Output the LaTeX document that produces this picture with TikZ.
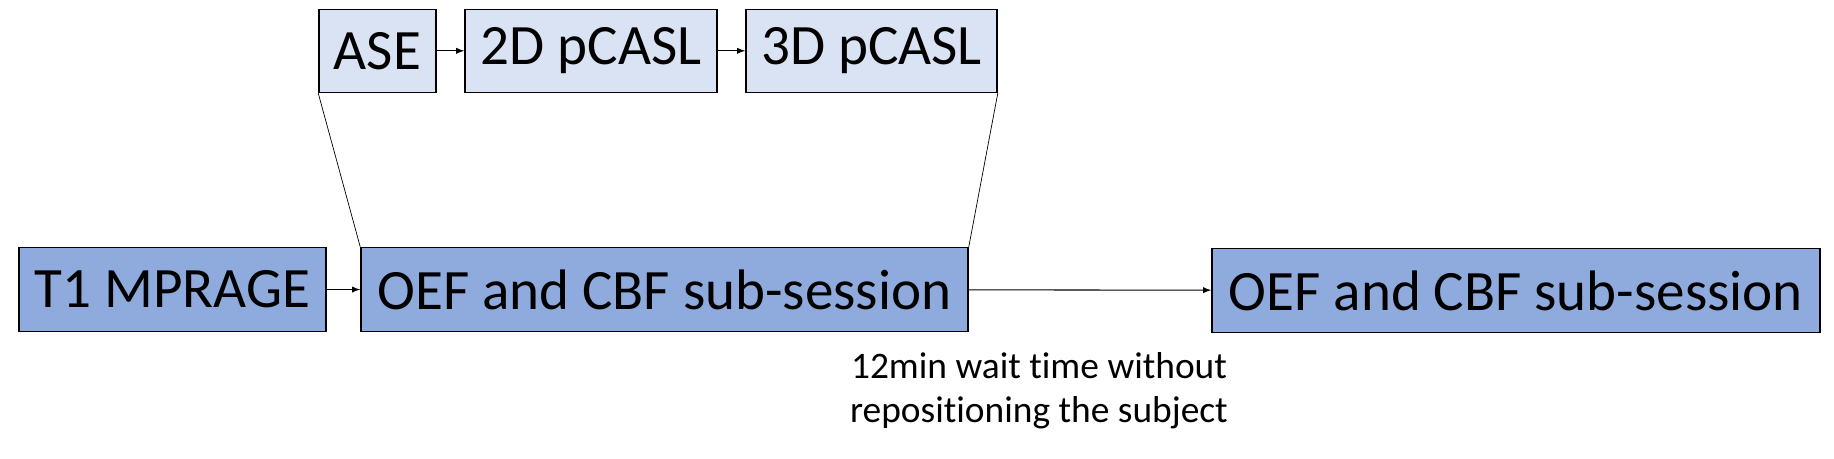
\documentclass[tikz,border=0pt]{standalone}
\usepackage{fontspec}
\setmainfont{Carlito}[Ligatures={NoCommon}]
\usetikzlibrary{arrows}
\definecolor{StepClr}{HTML}{DAE3F3}
\definecolor{SessionClr}{HTML}{8FAADC}

\begin{document}
\begin{tikzpicture}[x=0.02cm,y=-0.02cm,
  stepbox/.style={draw=black,line width=0.9pt,fill=StepClr,minimum height=83*0.02cm,inner sep=0pt,font=\fontsize{32.5}{36}\selectfont},
  sessionbox/.style={draw=black,line width=0.9pt,fill=SessionClr,minimum height=84*0.02cm,inner sep=0pt,font=\fontsize{32.5}{36}\selectfont},
  link/.style={line width=0.6pt,-latex}]
\useasboundingbox (0,0) rectangle (1834,458);

% top row
\node[stepbox,minimum width=117*0.02cm] (ASE) at (377.5,50.8) {ASE};
\node[stepbox,minimum width=252*0.02cm] (pCASL2D) at (591,50.8) {2D pCASL};
\node[stepbox,minimum width=251*0.02cm] (pCASL3D) at (871.5,50.8) {3D pCASL};

% bottom row
\node[sessionbox,minimum width=307*0.02cm] (T1) at (172.5,289.5) {T1 MPRAGE};
\node[sessionbox,minimum width=607*0.02cm] (OEF1) at (664.5,289.5) {OEF and CBF sub-session};
\node[sessionbox,minimum width=608*0.02cm] (OEF2) at (1516,290.5) {OEF and CBF sub-session};

\node[align=center,font=\fontsize{21.3}{25}\selectfont] (wait) at (1039,391) {12min wait time without\\repositioning the subject};

\draw[link] (ASE) -- (pCASL2D);
\draw[link] (pCASL2D) -- (pCASL3D);
\draw[link] (T1) -- (OEF1);
\draw[link] (OEF1) -- (OEF2);

\draw[line width=0.4pt] (ASE.south west) -- (OEF1.north west);
\draw[line width=0.4pt] (pCASL3D.south east) -- (OEF1.north east);

\end{tikzpicture}
\end{document}
